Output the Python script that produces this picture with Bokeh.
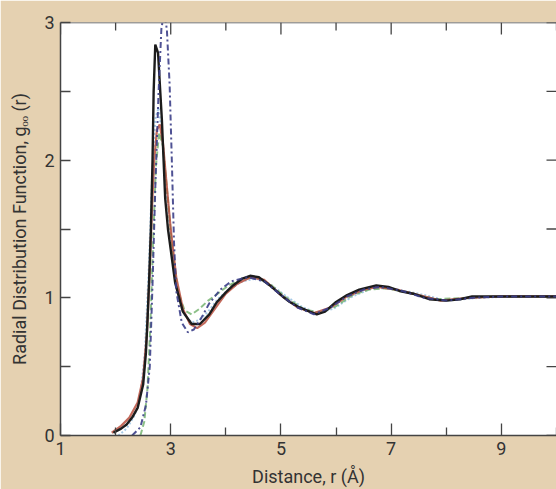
import math
from bokeh.plotting import figure
from bokeh.models import FixedTicker, Range1d, Span
from bokeh.embed import file_html
from bokeh.resources import INLINE

TAN = "#e5d1b1"

# ---- data ----
x_major = [1, 3, 5, 7, 9]
x_minor = [2, 4, 6, 8, 10]
y_major = [0, 1, 2, 3]
y_minor = [0.5, 1.5, 2.5]

r_black = [1.96, 2.10, 2.20, 2.30, 2.40, 2.50, 2.55, 2.58, 2.61, 2.64, 2.67, 2.69, 2.72, 2.77,
           2.84, 2.90, 2.95, 3.00, 3.08, 3.22, 3.38, 3.53, 3.70, 3.84, 4.00, 4.13, 4.30, 4.44,
           4.60, 4.80, 5.03, 5.16, 5.34, 5.52, 5.65, 5.80, 6.00, 6.20, 6.42, 6.73, 6.95, 7.15,
           7.40, 7.69, 8.00, 8.25, 8.47, 8.80, 9.20, 9.60, 10.0]
g_black = [0.02, 0.05, 0.08, 0.13, 0.20, 0.37, 0.60, 0.85, 1.15, 1.50, 2.00, 2.50, 2.84, 2.78,
           2.29, 1.72, 1.50, 1.35, 1.11, 0.90, 0.81, 0.81, 0.88, 0.97, 1.04, 1.09, 1.14, 1.16,
           1.15, 1.09, 1.01, 0.97, 0.93, 0.90, 0.88, 0.90, 0.97, 1.02, 1.06, 1.09, 1.08, 1.05,
           1.03, 0.99, 0.98, 0.99, 1.01, 1.01, 1.01, 1.01, 1.01]

r_red = [1.93, 2.10, 2.25, 2.40, 2.50, 2.57, 2.62, 2.66, 2.70, 2.75, 2.80, 2.86, 2.92, 3.00,
         3.10, 3.22, 3.35, 3.48, 3.62, 3.80, 4.00, 4.20, 4.45, 4.70, 5.00, 5.30, 5.60, 5.90,
         6.20, 6.50, 6.75, 7.10, 7.50, 7.90, 8.40, 9.00, 10.0]
g_red = [0.02, 0.07, 0.13, 0.24, 0.42, 0.75, 1.20, 1.65, 2.00, 2.22, 2.26, 2.12, 1.85, 1.50,
         1.15, 0.92, 0.81, 0.78, 0.82, 0.92, 1.03, 1.10, 1.15, 1.13, 1.02, 0.93, 0.89, 0.93,
         1.01, 1.06, 1.08, 1.06, 1.02, 0.98, 1.00, 1.01, 1.01]

r_navy = [2.30, 2.45, 2.55, 2.62, 2.67, 2.72, 2.78, 2.83, 2.88, 2.93, 2.98, 3.02, 3.06, 3.10,
          3.20, 3.31, 3.42, 3.55, 3.70, 3.90, 4.10, 4.40, 4.70, 5.00, 5.30, 5.60, 5.90, 6.20,
          6.50, 6.80, 7.20, 7.60, 8.00, 8.50, 9.00, 10.0]
g_navy = [0.00, 0.06, 0.22, 0.50, 1.10, 1.80, 2.50, 2.95, 3.08, 2.95, 2.55, 2.00, 1.40, 1.05,
          0.82, 0.75, 0.77, 0.85, 0.96, 1.06, 1.12, 1.15, 1.12, 1.02, 0.93, 0.88, 0.93, 1.01,
          1.06, 1.08, 1.05, 1.00, 0.98, 1.00, 1.01, 1.01]

r_green = [2.45, 2.52, 2.58, 2.63, 2.68, 2.73, 2.79, 2.86, 2.94, 3.03, 3.13, 3.25, 3.38, 3.52,
           3.68, 3.85, 4.05, 4.30, 4.55, 4.80, 5.10, 5.40, 5.70, 6.00, 6.30, 6.60, 6.90, 7.30,
           7.80, 8.40, 9.00, 10.0]
g_green = [0.00, 0.10, 0.35, 0.80, 1.40, 1.95, 2.20, 2.10, 1.75, 1.35, 1.05, 0.91, 0.88, 0.92,
           0.98, 1.03, 1.09, 1.14, 1.15, 1.10, 1.00, 0.92, 0.89, 0.94, 1.02, 1.06, 1.07, 1.04,
           0.99, 1.00, 1.01, 1.01]

r_cyan = [2.05, 2.20, 2.35, 2.45, 2.53, 2.60, 2.66, 2.72, 2.78, 2.85, 2.93, 3.02, 3.12, 3.24,
          3.38, 3.52, 3.68, 3.85, 4.05, 4.30, 4.55, 4.80, 5.10, 5.40, 5.65, 5.95, 6.30, 6.65,
          7.00, 7.50, 8.00, 8.60, 9.20, 10.0]
g_cyan = [0.00, 0.05, 0.15, 0.30, 0.60, 1.20, 1.85, 2.30, 2.38, 2.15, 1.75, 1.35, 1.05, 0.88,
          0.82, 0.84, 0.90, 0.99, 1.06, 1.12, 1.14, 1.10, 1.01, 0.93, 0.89, 0.92, 1.01, 1.07,
          1.07, 1.03, 0.98, 1.00, 1.01, 1.01]

FONT = "Roboto"
TXT = "#333333"
AX = "#444444"

p = figure(width=556, height=489, x_range=Range1d(1, 10), y_range=Range1d(0, 3),
           output_backend="svg", toolbar_location=None,
           min_border_left=60, min_border_right=0, min_border_top=22, min_border_bottom=52,
           background_fill_color="white", border_fill_color=TAN,
           outline_line_color=None)
p.xgrid.visible = False
p.ygrid.visible = False


def style(ax, ticker, major_in, minor_in):
    ax.ticker = ticker
    ax.axis_line_color = AX
    ax.axis_line_width = 1.5
    ax.major_tick_line_color = AX
    ax.minor_tick_line_color = AX
    ax.major_tick_line_width = 1.3
    ax.minor_tick_line_width = 1.3
    ax.major_tick_in = major_in
    ax.major_tick_out = 0
    ax.minor_tick_in = minor_in
    ax.minor_tick_out = 0
    ax.major_label_text_font = FONT
    ax.major_label_text_color = TXT
    ax.major_label_text_font_size = "18px"
    ax.major_label_standoff = 6
    ax.axis_label_text_font = FONT
    ax.axis_label_text_color = TXT
    ax.axis_label_text_font_style = "normal"
    ax.axis_label_text_font_size = "18px"


style(p.xaxis[0], FixedTicker(ticks=x_major, minor_ticks=x_minor), 12, 8)
style(p.yaxis[0], FixedTicker(ticks=y_major, minor_ticks=y_minor), 10, 10)
p.xaxis[0].axis_label = "Distance, r (Å)"
p.xaxis[0].axis_label_standoff = 8
p.yaxis[0].axis_label = "Radial Distribution Function, gₒₒ (r)"
p.yaxis[0].axis_label_standoff = 11

# top edge line and mirrored inward ticks on the top and right edges of the frame
x_end = p.x_range.end
y_end = p.y_range.end
p.add_layout(Span(location=y_end, dimension="width", line_color=AX, line_width=1.5))
p.ray(x=x_major, y=[y_end] * len(x_major), length=12, length_units="screen",
      angle=-math.pi / 2, line_color=AX, line_width=1.3)
p.ray(x=x_minor, y=[y_end] * len(x_minor), length=8, length_units="screen",
      angle=-math.pi / 2, line_color=AX, line_width=1.3)
p.ray(x=[x_end] * len(y_major + y_minor), y=y_major + y_minor, length=10, length_units="screen",
      angle=math.pi, line_color=AX, line_width=1.3)

p.line(r_cyan, g_cyan, line_color="#8fbbe0", line_width=2, line_dash="2 2", line_alpha=0.8)
p.line(r_green, g_green, line_color="#6fb06a", line_width=2, line_dash="6 3", line_alpha=0.8)
p.line(r_red, g_red, line_color="#b8503f", line_width=2.2, line_alpha=0.85)
p.line(r_black, g_black, line_color="#1c1c1c", line_width=2.4)
p.line(r_navy, g_navy, line_color="#3c3f88", line_width=2, line_dash="6 3 2 3", line_alpha=0.9)

html = file_html(p, INLINE)
html = html.replace("<body>", '<body style="background-color:%s;">' % TAN, 1)
open("out.html", "w").write(html)
